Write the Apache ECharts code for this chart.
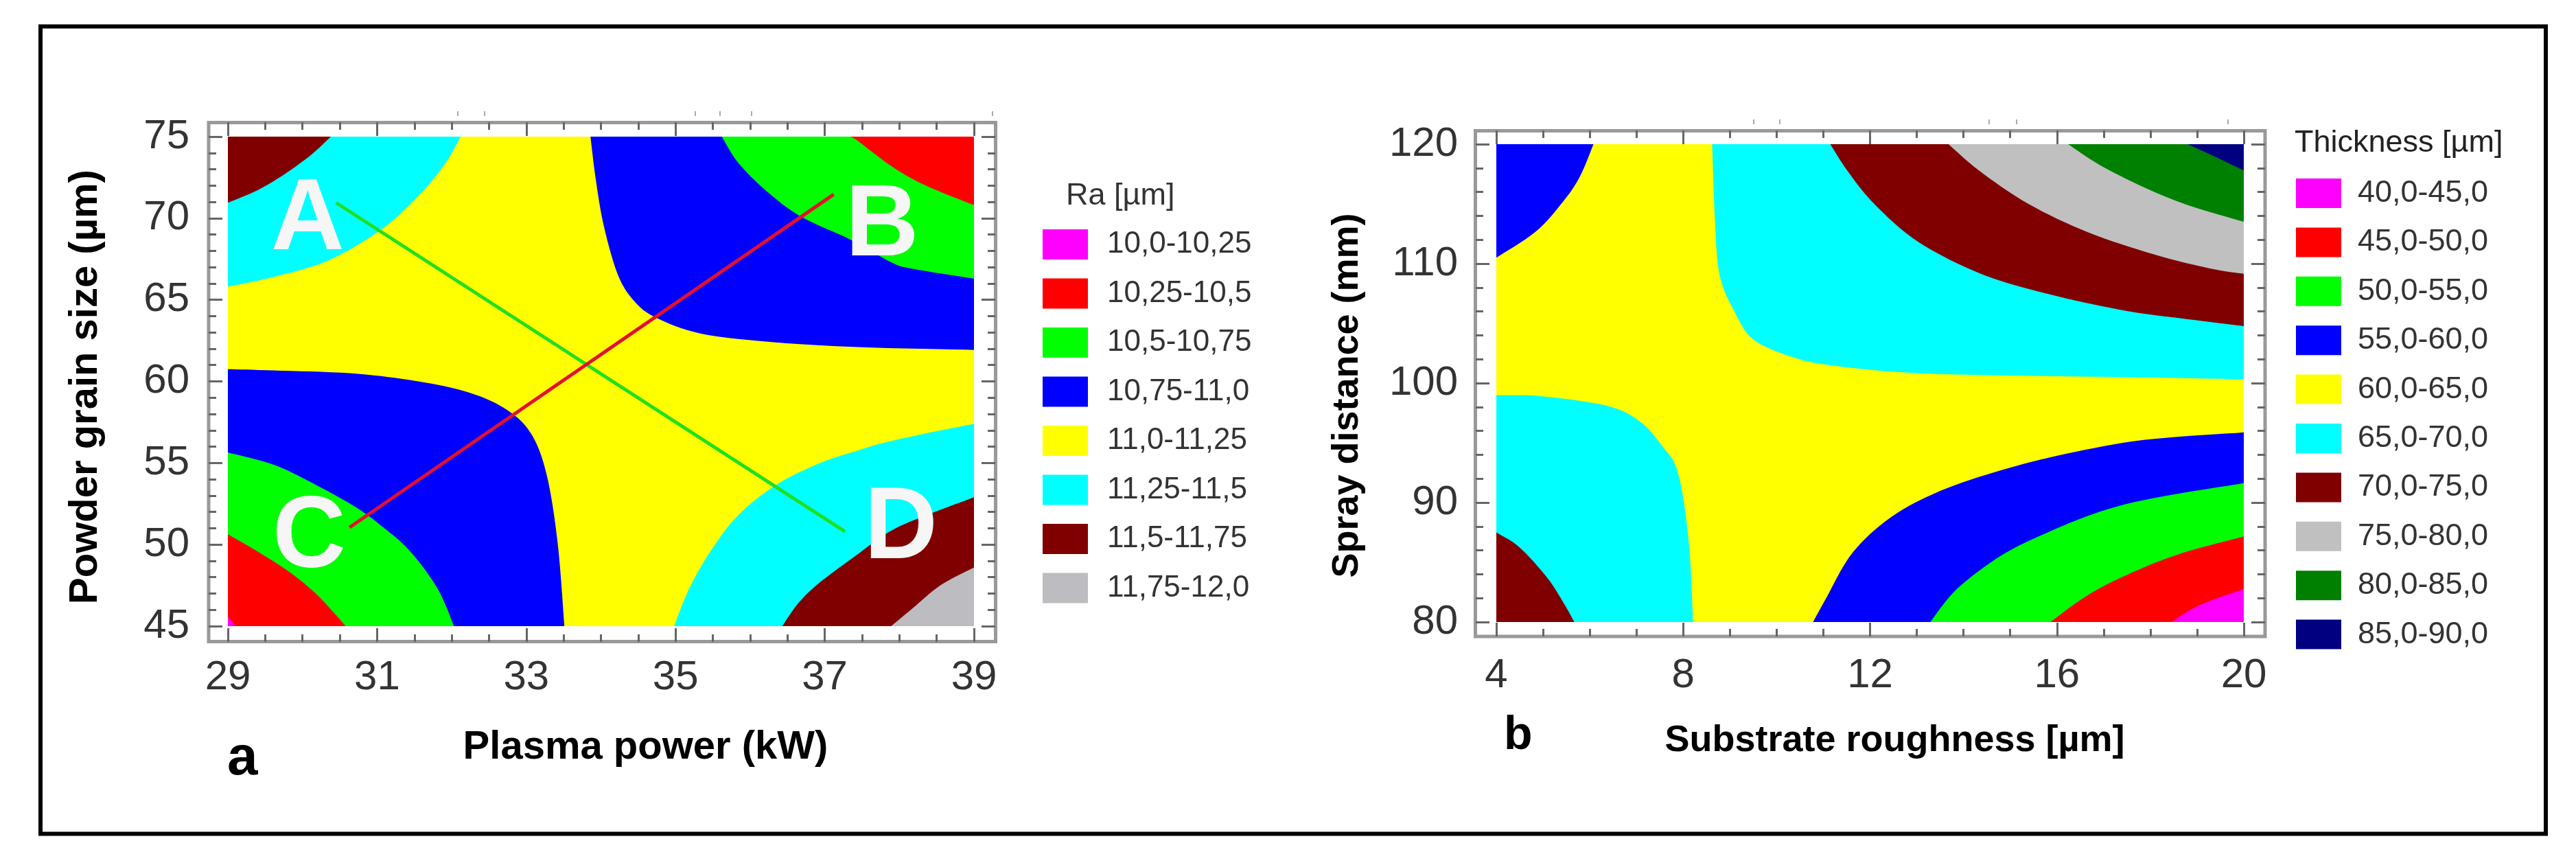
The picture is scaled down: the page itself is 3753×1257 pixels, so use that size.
<!DOCTYPE html>
<html><head><meta charset="utf-8">
<style>html,body{margin:0;padding:0;background:#fff}#c{width:3753px;height:1257px}</style>
<script src="https://cdn.jsdelivr.net/npm/echarts@6/dist/echarts.min.js"></script></head>
<body><div id="c"></div>
<script>
// ---------- Panel a: axes, legend ----------
const aXTicks=[29,31,33,35,37,39];
const aXMinor=[29,29.5,30,30.5,31,31.5,32,32.5,33,33.5,34,34.5,35,35.5,36,36.5,37,37.5,38,38.5,39];
const aBands=['10,0-10,25','10,25-10,5','10,5-10,75','10,75-11,0','11,0-11,25','11,25-11,5','11,5-11,75','11,75-12,0'];
const bBands=['40,0-45,0','45,0-50,0','50,0-55,0','55,0-60,0','60,0-65,0','65,0-70,0','70,0-75,0','75,0-80,0','80,0-85,0','85,0-90,0'];
// ---------- Panel a: contour boundaries [kW, um] ----------
const aMaroonTL=[[30.38,75],[30.12,73.9],[29.76,72.7],[29.39,71.7],[29,70.95]];
const aCyanTL=[[32.12,75],[31.92,73.4],[31.59,71.54],[31.07,69.35],[30.34,67.4],[29.61,66.4],[29,65.8]];
const aBlueTR=[[33.86,75],[33.93,72.4],[34.04,69.5],[34.23,66.5],[34.45,64.9],[34.74,63.9],[35.33,62.94],[36.21,62.44],[37.44,62.1],[39,61.93]];
const aGreenTR=[[35.62,75],[35.84,73.4],[36.21,71.7],[36.68,70.1],[37.34,68.7],[37.89,67.3],[38.18,66.9],[39,66.3]];
const aRedTR=[[37.34,75],[37.44,74.75],[37.89,73.2],[38.33,72.05],[39,70.8]];
const aBlueBL=[[29,60.75],[29.61,60.67],[30.63,60.5],[31.44,60.08],[32.17,59.4],[32.69,58.4],[33.05,56.9],[33.27,54.33],[33.42,50.1],[33.51,45]];
const aGreenBL=[[29,55.64],[29.61,54.9],[30.12,53.8],[30.71,52.3],[31.07,51.1],[31.44,49.6],[31.81,47.3],[32.03,45]];
const aRedBL=[[29,50.63],[29.39,49.6],[29.83,48.3],[30.2,46.9],[30.58,45]];
const aMagentaBL=[[29,45.6],[29.1,45]];
const aCyanBR=[[34.98,45],[35.18,47.27],[35.47,49.6],[35.84,51.8],[36.35,53.66],[36.94,55],[37.44,55.76],[37.81,56.26],[38.4,56.85],[39,57.4]];
const aMaroonBR=[[36.43,45],[36.65,46.43],[36.94,47.7],[37.44,49.4],[37.81,50.63],[38.18,51.47],[39,52.9]];
const aGreyBR=[[37.89,45],[38.18,46.1],[38.55,47.5],[39,48.6]];
const aGreenLine=[[30.45,70.95],[37.27,50.8]];
const aRedLine=[[30.63,51.05],[37.12,71.46]];
const aLetters=[['A',30.07,69.8],['B',37.77,69.45],['C',30.09,50.34],['D',38.02,50.9]];
// ---------- Panel b: contour boundaries [um, mm] ----------
const bBlueTL=[[6.08,120],[5.79,117.3],[5.44,115.25],[4.85,112.7],[4,110.5]];
const bCyanTR=[[8.62,120],[8.68,113.6],[8.78,109.03],[9.09,106.04],[9.51,103.62],[10.39,102.12],[11.27,101.43],[12.92,100.85],[15.15,100.62],[17.5,100.5],[20,100.32]];
const bMaroonTR=[[11.15,120],[11.51,117.8],[12.09,115],[13.04,111.8],[14.45,109.03],[15.98,107.3],[17.5,106.04],[18.8,105.35],[20,104.77]];
const bGreyTR=[[13.68,120],[14.33,117.8],[15.39,115],[16.68,112.6],[18.09,110.76],[19.27,109.6],[20,109.15]];
const bDarkGreenTR=[[16.24,120],[16.92,118.25],[17.86,116.4],[18.8,114.9],[20,113.5]];
const bNavyTR=[[18.8,120],[19.39,118.94],[20,117.8]];
const bCyanBL=[[4,99],[4.97,98.9],[6.37,98.1],[7.07,96.8],[7.54,94.78],[7.89,92.47],[8.12,86.7],[8.21,80]];
const bMaroonBL=[[4,87.5],[4.5,86.24],[5.09,83.7],[5.44,81.6],[5.67,80]];
const bBlueBR=[[10.78,80],[11.04,81.85],[11.62,85.77],[12.45,88.78],[13.5,90.97],[14.8,92.7],[16.21,94.09],[17.86,95.24],[20,95.87]];
const bGreenBR=[[13.29,80],[13.86,82.77],[14.8,85.54],[15.74,87.39],[16.92,89.24],[18.09,90.39],[20,91.62]];
const bRedBR=[[15.86,80],[16.68,82.3],[17.62,84.16],[18.68,85.77],[20,87.16]];
const bMagentaBR=[[18.45,80],[19.04,81.39],[20,82.77]];

const FONT='"Liberation Sans",Arial,sans-serif';
const C={magenta:'#ff00ff',red:'#ff0000',green:'#00ff00',blue:'#0000ff',yellow:'#ffff00',cyan:'#00ffff',maroon:'#800000',grey:'#c0c0c0',dark:'#008000',navy:'#000080'};

function smooth(pts,api){
  const p=pts.map(q=>api.coord(q));
  if(p.length<3) return p;
  const out=[];
  for(let i=0;i<p.length-1;i++){
    const a=p[Math.max(0,i-1)],b=p[i],c=p[i+1],d=p[Math.min(p.length-1,i+2)];
    for(let k=0;k<8;k++){
      const t=k/8,t2=t*t,t3=t2*t;
      out.push([0,1].map(j=>0.5*(2*b[j]+(c[j]-a[j])*t+(2*a[j]-5*b[j]+4*c[j]-d[j])*t2+(3*b[j]-a[j]-3*c[j]+d[j])*t3)));
    }
  }
  out.push(p[p.length-1]);
  return out;
}
function band(name,color,polys,ax,ay){
  return {type:'custom',name,coordinateSystem:'cartesian2d',xAxisIndex:ax,yAxisIndex:ay,silent:true,clip:true,
    itemStyle:{color},data:polys.map((_,i)=>[i]),
    renderItem(params,api){
      const poly=polys[params.dataIndex];
      const pts=smooth(poly.edge,api).concat(poly.close.map(q=>api.coord(q)));
      return {type:'polygon',shape:{points:pts},style:{fill:color}};
    }};
}
const TL=[[29,75]],TR=[[39,75]],BL=[[29,45]],BR=[[39,45]];
const tl=[[4,120]],tr=[[20,120]],bl=[[4,80]],br=[[20,80]];
// axes of panel a occupy xAxis 0-3, yAxis 0-1 ; panel b xAxis 4-5, yAxis 2-3
const series=[
 band(aBands[4],C.yellow,[{edge:[],close:[[29,45],[39,45],[39,75],[29,75]]}],0,0),
 band(aBands[3],C.blue,[{edge:aBlueTR,close:TR},{edge:aBlueBL,close:BL}],0,0),
 band(aBands[5],C.cyan,[{edge:aCyanTL,close:TL},{edge:aCyanBR,close:BR}],0,0),
 band(aBands[2],C.green,[{edge:aGreenTR,close:TR},{edge:aGreenBL,close:BL}],0,0),
 band(aBands[6],C.maroon,[{edge:aMaroonTL,close:TL},{edge:aMaroonBR,close:BR}],0,0),
 band(aBands[1],C.red,[{edge:aRedTR,close:TR},{edge:aRedBL,close:BL}],0,0),
 band(aBands[7],'#bdbcc0',[{edge:aGreyBR,close:BR}],0,0),
 band(aBands[0],C.magenta,[{edge:aMagentaBL,close:BL}],0,0),
 {type:'line',name:'green line',xAxisIndex:0,yAxisIndex:0,data:aGreenLine,symbol:'none',silent:true,z:3,lineStyle:{color:'#20e020',width:5}},
 {type:'line',name:'red line',xAxisIndex:0,yAxisIndex:0,data:aRedLine,symbol:'none',silent:true,z:3,lineStyle:{color:'#e4102e',width:5}},
 {type:'scatter',name:'letters',xAxisIndex:0,yAxisIndex:0,symbolSize:1,silent:true,z:4,itemStyle:{color:'rgba(0,0,0,0)',opacity:1},
  data:aLetters.map(l=>({name:l[0],value:[l[1],l[2]]})),
  label:{show:true,position:'inside',formatter:'{b}',color:'#f6f6f6',opacity:1,fontFamily:FONT,fontWeight:'bold',fontSize:148}},
 band(bBands[4],C.yellow,[{edge:[],close:[[4,80],[20,80],[20,120],[4,120]]}],4,2),
 band(bBands[3],C.blue,[{edge:bBlueTL,close:tl},{edge:bBlueBR,close:br}],4,2),
 band(bBands[5],C.cyan,[{edge:bCyanTR,close:tr},{edge:bCyanBL,close:bl}],4,2),
 band(bBands[2],C.green,[{edge:bGreenBR,close:br}],4,2),
 band(bBands[6],C.maroon,[{edge:bMaroonTR,close:tr},{edge:bMaroonBL,close:bl}],4,2),
 band(bBands[1],C.red,[{edge:bRedBR,close:br}],4,2),
 band(bBands[7],C.grey,[{edge:bGreyTR,close:tr}],4,2),
 band(bBands[0],C.magenta,[{edge:bMagentaBR,close:br}],4,2),
 band(bBands[8],C.dark,[{edge:bDarkGreenTR,close:tr}],4,2),
 band(bBands[9],C.navy,[{edge:bNavyTR,close:tr}],4,2)
];

const tickColor='#666';
function axis(o){
  const a={type:'value',gridIndex:o.grid,min:o.min,max:o.max,position:o.pos,offset:o.off,
    axisLine:{show:false},splitLine:{show:false},z:5,
    axisTick:{show:true,inside:true,length:o.major,lineStyle:{color:tickColor,width:3}},
    axisLabel:{show:!!o.label,margin:o.margin,fontFamily:FONT,fontSize:60,color:'#333',hideOverlap:false,showMinLabel:true,showMaxLabel:true}};
  if(o.interval!==undefined) a.interval=o.interval;
  if(o.sub) a.minorTick={show:true,splitNumber:o.sub,length:11,lineStyle:{color:tickColor,width:3}};
  if(o.values){a.axisTick.customValues=o.values;a.axisLabel.customValues=o.values;}
  if(o.name){a.name=o.name;a.nameLocation='middle';a.nameGap=o.nameGap;
    a.nameTextStyle={fontFamily:FONT,fontWeight:'bold',fontSize:o.nameSize,color:'#000',padding:o.namePad};}
  return a;
}
const xAxis=[
 axis({grid:0,min:29,max:39,pos:'bottom',off:23,major:20,values:aXTicks,label:true,margin:22,name:'Plasma power (kW)',nameSize:58,nameGap:125,namePad:[0,0,0,130]}),
 axis({grid:0,min:29,max:39,pos:'top',off:21,major:20,values:aXTicks}),
 axis({grid:0,min:29,max:39,pos:'bottom',off:23,major:11,values:aXMinor}),
 axis({grid:0,min:29,max:39,pos:'top',off:21,major:11,values:aXMinor}),
 axis({grid:1,min:4,max:20,pos:'bottom',off:21,major:20,interval:4,sub:4,label:true,margin:27,name:'Substrate roughness [\u00b5m]',nameSize:54,nameGap:125,namePad:[0,0,0,72]}),
 axis({grid:1,min:4,max:20,pos:'top',off:20,major:20,interval:4,sub:4})
];
const yAxis=[
 axis({grid:0,min:45,max:75,pos:'left',off:28,major:20,interval:5,sub:5,label:true,margin:28,name:'Powder grain size (\u00b5m)',nameSize:58,nameGap:150,namePad:[0,16,0,0]}),
 axis({grid:0,min:45,max:75,pos:'right',off:31,major:20,interval:5,sub:5}),
 axis({grid:1,min:80,max:120,pos:'left',off:30,major:20,interval:10,sub:5,label:true,margin:26,name:'Spray distance (mm)',nameSize:54,nameGap:160,namePad:[0,36,0,0]}),
 axis({grid:1,min:80,max:120,pos:'right',off:31,major:20,interval:10,sub:5})
];
const lab=(text,left,top,size,bold,color)=>({text,left,top,padding:0,textStyle:{fontFamily:FONT,fontSize:size,fontWeight:bold?'bold':'normal',color:color||'#000'}});
const legendBase=(data,left,top,h,gap,pad,size)=>({data:data.map(name=>({name,icon:'rect'})),orient:'vertical',left,top,padding:0,itemWidth:66,itemHeight:h,itemGap:gap,selectedMode:false,
  textStyle:{fontFamily:FONT,fontSize:size,color:'#333',lineHeight:h,padding:[0,0,0,pad]}});
const frame=(x,y,w,h)=>({type:'rect',z:1,shape:{x,y,width:w,height:h},style:{fill:'none',stroke:'#999',lineWidth:5}});
const speck=(x,y)=>({type:'rect',z:1,shape:{x,y,width:2,height:7},style:{fill:'#aaa'}});
const option={
 backgroundColor:'#fff',animation:false,
 grid:[{left:332,top:199,width:1087,height:713},{left:2180,top:210,width:1089,height:696}],
 xAxis,yAxis,series,
 title:[lab('a',331,1066,80,true),lab('b',2191,1038,68,true),lab('Ra [\u00b5m]',1553,263,45,false,'#333'),lab('Thickness [\u00b5m]',3343,186,45,false,'#222')],
 legend:[legendBase(aBands,1519,334,44,27.5,23,44),legendBase(bBands,3345,259,43,26.4,19,45)],
 graphic:{elements:[
  {type:'rect',z:0,shape:{x:59,y:38.5,width:3650,height:1176},style:{fill:'none',stroke:'#000',lineWidth:6}},
  frame(304,178.5,1146.5,756),frame(2149.5,190.5,1150.5,736.5),
  speck(666,162),speck(705,162),speck(1012,162),speck(1048,162),speck(1094,162),speck(1445,162),
  speck(2554,174),speck(2592,174),speck(2897,174),speck(2937,174),speck(3245,174)
 ]}
};
echarts.init(document.getElementById('c'),null,{renderer:'canvas'}).setOption(option);
</script></body></html>
